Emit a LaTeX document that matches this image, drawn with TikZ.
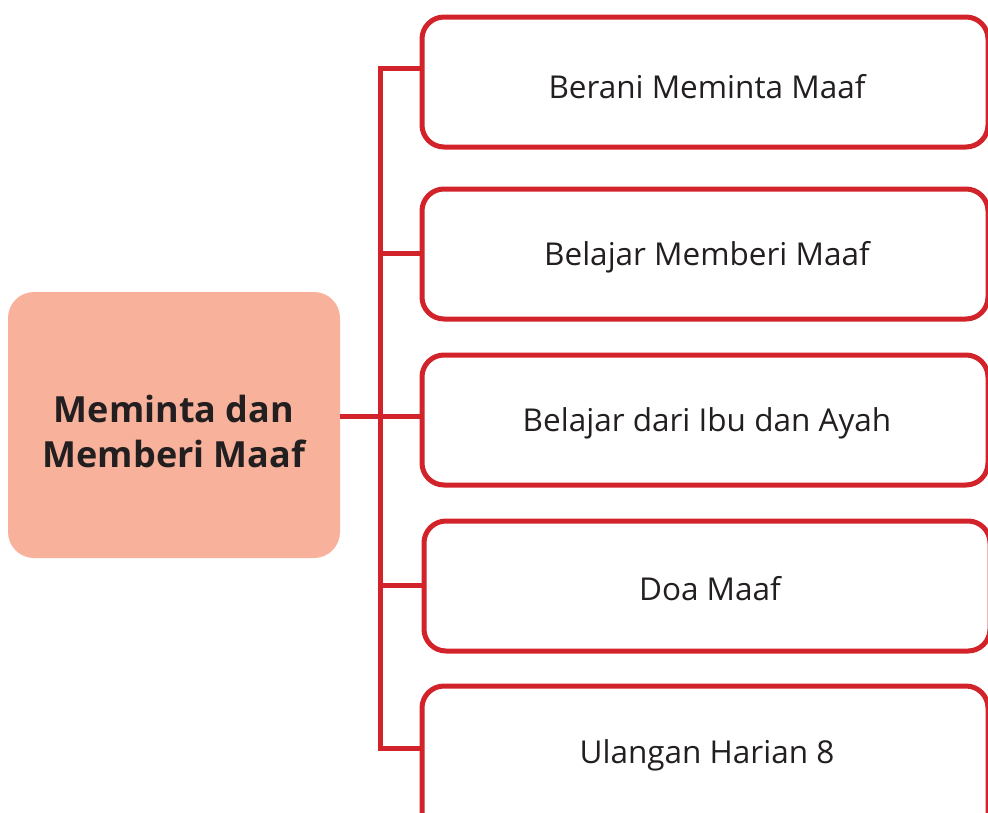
\documentclass[tikz,border=0pt]{standalone}
\usepackage{fontspec}
\setmainfont{Open Sans}
\definecolor{linered}{HTML}{D2232A}
\definecolor{salmon}{HTML}{F8B19A}
\definecolor{txt}{HTML}{231F20}
\begin{document}
\begin{tikzpicture}[x=1pt,y=-1pt,
  itembox/.style={draw=linered,line width=5pt,fill=white,rounded corners=22pt,
    minimum width=566pt,minimum height=130pt,inner sep=0pt},
  itemtext/.style={inner sep=0pt,font=\fontsize{31.5}{36}\selectfont,text=txt},
  mainbox/.style={fill=salmon,rounded corners=26pt,minimum width=332pt,minimum height=266pt,
    inner sep=0pt},
  maintext/.style={inner sep=0pt,align=center,font=\bfseries\fontsize{36}{45}\selectfont,text=txt},
  conn/.style={draw=linered,line width=5pt}]
\useasboundingbox (0,0) rectangle (988,812);
\node[mainbox] (m) at (174,425) {};
\node[maintext] (mt) at (174,431) {Meminta dan\\Memberi Maaf};
\node[itembox] (b1) at (705,82) {};
\node[itembox] (b2) at (705,254) {};
\node[itembox] (b3) at (705,420) {};
\node[itembox] (b4) at (707,586) {};
\node[itembox,minimum height=150pt] (b5) at (705,761) {};
\node[itemtext] (l1) at (707,87) {Berani Meminta Maaf};
\node[itemtext] (l2) at (707,257) {Belajar Memberi Maaf};
\node[itemtext] (l3) at (707,423) {Belajar dari Ibu dan Ayah};
\node[itemtext] (l4) at (710,589) {Doa Maaf};
\node[itemtext] (l5) at (707,755) {Ulangan Harian 8};
\coordinate (t1) at (380,68);
\coordinate (t2) at (380,253);
\coordinate (t3) at (380,416);
\coordinate (t4) at (380,585);
\coordinate (t5) at (380,748);
\draw[conn] (b1.west |- t1) -- (t1) -- (t5) -- (b5.west |- t5);
\draw[conn] (t2) -- (b2.west |- t2);
\draw[conn] (m.east |- t3) -- (b3.west |- t3);
\draw[conn] (t4) -- (b4.west |- t4);
\end{tikzpicture}
\end{document}
